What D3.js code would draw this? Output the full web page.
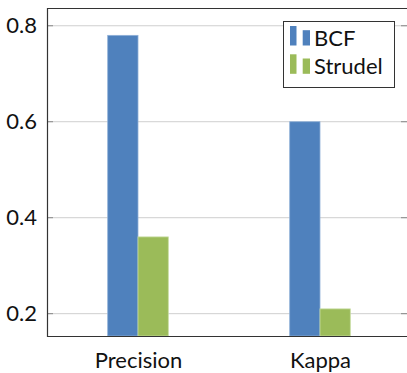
<!DOCTYPE html>
<html><head><meta charset="utf-8">
<script src="https://cdn.jsdelivr.net/npm/d3@7/dist/d3.min.js"></script>
<style>body{margin:0;background:#fff}svg{display:block}text{font-family:Lato,"Liberation Sans",sans-serif;fill:#111}</style>
</head><body><svg id="c" width="407" height="373"></svg>
<script>
const categories = ["Precision", "Kappa"];
const seriesNames = ["BCF", "Strudel"];
const bcfValues = [0.78, 0.60];
const strudelValues = [0.36, 0.21];
const yTicks = [0.2, 0.4, 0.6, 0.8];
const colors = {BCF: "#4f81bd", Strudel: "#9bbb59"};
const edgeColors = {BCF: "#8fb0d8", Strudel: "#c6dca0"};
const FS = 22;

const svg = d3.select("#c");
const L = 47, R = 411, T = 8, B = 336;
const y = d3.scaleLinear().domain([0.1535, 0.837]).range([B, T]);
const x = d3.scalePoint().domain(categories).range([L, R]).padding(0.5);
const xs = d3.scaleBand().domain(seriesNames).range([-30.3, 30.3]).padding(0);
const values = {BCF: bcfValues, Strudel: strudelValues};

// gridlines
svg.append("g").selectAll("line").data(yTicks).join("line")
  .attr("x1", L).attr("x2", 407).attr("y1", d => y(d)).attr("y2", d => y(d))
  .attr("stroke", "#cfcfcf").attr("stroke-width", 1);
// tick marks inside both sides
svg.append("g").selectAll("line").data(yTicks).join("line")
  .attr("x1", L).attr("x2", L + 6).attr("y1", d => y(d)).attr("y2", d => y(d))
  .attr("stroke", "#888").attr("stroke-width", 1);
svg.append("g").selectAll("line").data(yTicks).join("line")
  .attr("x1", 401).attr("x2", 407).attr("y1", d => y(d)).attr("y2", d => y(d))
  .attr("stroke", "#888").attr("stroke-width", 1);

// bars
seriesNames.forEach(s => {
  svg.append("g").selectAll("rect").data(categories).join("rect")
    .attr("x", (c) => x(c) + xs(s))
    .attr("width", xs.bandwidth())
    .attr("y", (c, i) => y(values[s][i]))
    .attr("height", (c, i) => B - y(values[s][i]))
    .attr("fill", colors[s])
    .attr("stroke", edgeColors[s]).attr("stroke-width", 0.8);
});

// y axis labels
const yAxis = d3.axisLeft(y).tickValues(yTicks).tickSize(0).tickPadding(10).tickFormat(d3.format(".1f"));
const ya = svg.append("g").attr("transform", `translate(${L},0)`).call(yAxis);
ya.select(".domain").remove();
ya.selectAll("text").attr("font-size", FS).attr("font-family", "Lato").attr("fill", "#111");

// x axis labels
const xAxis = d3.axisBottom(x).tickSize(0).tickPadding(16);
const xa = svg.append("g").attr("transform", `translate(0,${B})`).call(xAxis);
xa.select(".domain").remove();
xa.selectAll("text").attr("font-size", FS).attr("font-family", "Lato").attr("fill", "#111");

// frame
svg.append("path").attr("d", `M407.5,${T + 0.5}H${L + 0.5}V${B + 0.5}H407.5`)
  .attr("fill", "none").attr("stroke", "#333").attr("stroke-width", 1.2);

// legend
const lg = svg.append("g");
lg.append("rect").attr("x", 283.5).attr("y", 21.5).attr("width", 111).attr("height", 66)
  .attr("fill", "#fff").attr("stroke", "#333").attr("stroke-width", 1);
seriesNames.forEach((s, i) => {
  const by = 45.5 + i * 28.3;
  lg.append("rect").attr("x", 290).attr("y", by - 19.5).attr("width", 6.5).attr("height", 19.5).attr("fill", colors[s]);
  lg.append("rect").attr("x", 302.7).attr("y", by - 15.3).attr("width", 7.3).attr("height", 15.3).attr("fill", colors[s]);
  lg.append("text").attr("x", 314).attr("y", by + 0.5).attr("font-size", FS).text(s);
});
</script></body></html>
